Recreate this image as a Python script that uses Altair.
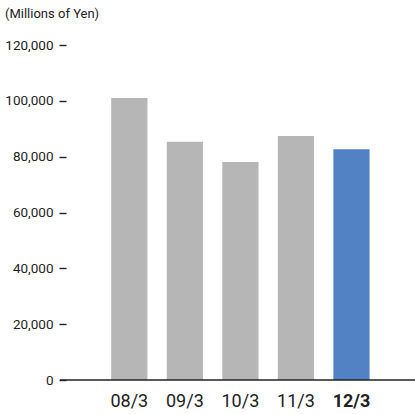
import altair as alt
import pandas as pd

periods = ["08/3", "09/3", "10/3", "11/3", "12/3"]
values = [101000, 85300, 78100, 87400, 82700]
highlight = [False, False, False, False, True]
y_ticks = [0, 20000, 40000, 60000, 80000, 100000, 120000]
unit_label = ["(Millions of Yen)"]

df = pd.DataFrame({"period": periods, "value": values, "hl": highlight})

FONT = "Roboto"

bars = alt.Chart(df).mark_bar().encode(
    x=alt.X("period:N", sort=periods,
            scale=alt.Scale(paddingInner=0.348, paddingOuter=0.87, align=0.53),
            axis=alt.Axis(title=None, labelAngle=0, labelFontSize=18, labelFont=FONT,
                          labelColor="#222222", ticks=False, domain=False,
                          labelPadding=12,
                          labelFontWeight=alt.ExprRef(expr="datum.value == '12/3' ? 'bold' : 'normal'"))),
    y=alt.Y("value:Q", scale=alt.Scale(domain=[0, 120000], nice=False),
            axis=alt.Axis(title=None, values=y_ticks, format=",d", grid=False, domain=False,
                          tickColor="#222222", tickSize=7, tickWidth=1.4, offset=-6,
                          labelFont=FONT, labelFontSize=13.5, labelColor="#222222",
                          labelPadding=6)),
    color=alt.Color("hl:N", scale=alt.Scale(domain=[False, True], range=["#b5b6b5", "#5282c4"]),
                    legend=None),
)

baseline = alt.Chart(pd.DataFrame({"v": [0]})).mark_rule(color="#222222", strokeWidth=1.5).encode(
    y="v:Q", x=alt.value(0), x2=alt.value(355)
)

unit = alt.Chart(pd.DataFrame({"t": unit_label})).mark_text(
    align="left", baseline="top", font=FONT, fontSize=13, color="#222222"
).encode(text="t:N", x=alt.value(-55), y=alt.value(-37))

chart = alt.layer(bars, baseline, unit).properties(
    width=355, height=335,
    autosize=alt.AutoSizeParams(type="none"),
    padding={"left": 60, "top": 45, "right": 0, "bottom": 34},
).configure_view(stroke=None)

chart.save("out.html", embed_options={"renderer": "svg", "actions": False})
